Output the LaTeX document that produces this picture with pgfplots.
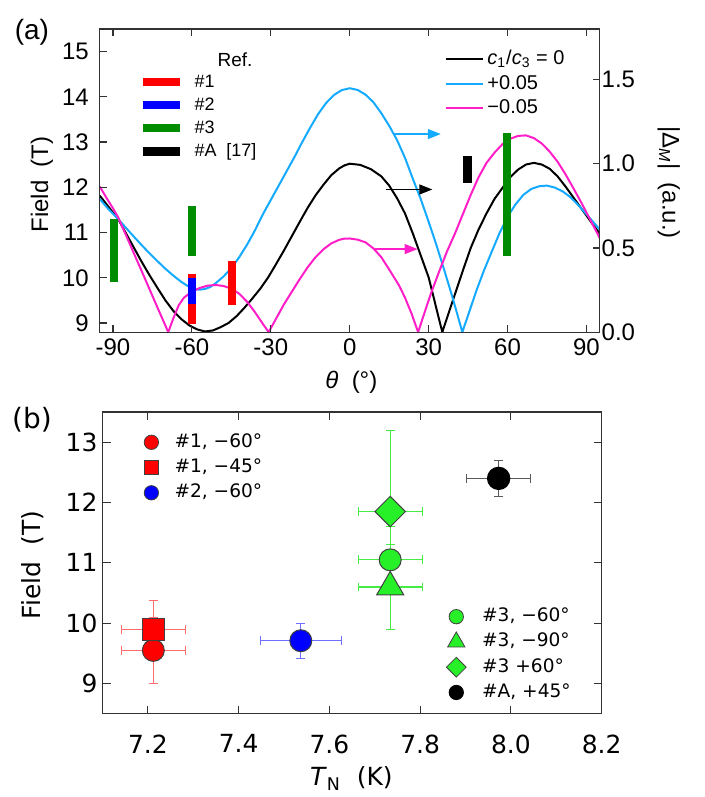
\documentclass[border=0pt]{standalone}
\usepackage{fontspec}
\setmainfont{Liberation Sans}
\newfontfamily\dejavu{DejaVu Sans}
\usepackage{pgfplots}
\pgfplotsset{compat=1.18}
\usetikzlibrary{arrows.meta}

\definecolor{cblue}{RGB}{20,170,255}
\definecolor{cmag}{RGB}{255,30,200}
\definecolor{bred}{RGB}{255,0,0}
\definecolor{bblue}{RGB}{0,0,255}
\definecolor{bgreen}{RGB}{0,140,0}
\definecolor{mgreen}{RGB}{40,240,40}
\definecolor{ered}{RGB}{255,110,110}
\definecolor{eblue}{RGB}{110,110,255}
\definecolor{egreen}{RGB}{70,235,70}
\definecolor{egray}{RGB}{90,90,90}
\definecolor{axgray}{RGB}{50,50,50}

% error bars first (small dot hidden later by the real marker)
\pgfplotsset{
  errbar/.style={only marks, mark=*, mark size=2.2pt, forget plot, color=#1,
    mark options={fill=#1, draw=#1},
    error bars/.cd, x dir=both, x explicit, y dir=both, y explicit,
    error bar style={line width=0.6pt}},
}

\begin{document}
\begin{tikzpicture}[x=1pt,y=1pt]
\path (-50,-232.15) rectangle (303,166.35);

% (a) right axis: |Delta_M| curves
\begin{axis}[
  at={(0pt,0pt)}, anchor=south west, scale only axis,
  width=250.35pt, height=151.85pt,
  xmin=-95, xmax=95, ymin=0, ymax=1.8,
  axis x line=none, axis y line*=right,
  ytick={0,0.5,1,1.5}, tick align=inside,
  axis line style={axgray, line width=0.6pt},
  major tick style={axgray, line width=0.6pt}, major tick length=3.5pt,
  tick label style={font=\fontsize{12}{14}\selectfont},
  y tick label style={/pgf/number format/.cd, fixed, fixed zerofill, precision=1, /tikz/.cd, xshift=-2.5pt},
  /pgf/number format/assume math mode=true,
  legend style={at={(axis cs:35.9,1.687)}, anchor=north west, draw=none, fill=none,
    inner sep=0pt, font=\fontsize{10}{12}\selectfont,
    nodes={inner sep=0pt, text height=8pt, text depth=2.5pt}, row sep=1.85pt, column sep=1.5pt},
  legend cell align=left,
  legend image code/.code={\draw[#1] (0pt,0pt) -- (19pt,0pt);},
]
\addplot[black, line width=1pt] coordinates {
(-95,0.810) (-91,0.730) (-88,0.671) (-85,0.585) (-82,0.500) (-79,0.415) (-76,0.335)
(-73,0.260) (-70,0.187) (-67,0.125) (-64,0.077) (-61,0.040) (-58,0.016) (-55,0.004)
(-52,0.010) (-49,0.030) (-46,0.055) (-43,0.095) (-40,0.145) (-37,0.200) (-34,0.258)
(-31,0.325) (-28,0.404) (-25,0.485) (-22,0.570) (-19,0.655) (-16,0.738) (-13,0.812)
(-10,0.875) (-7,0.932) (-4,0.972) (-2,0.990) (0,1.000) (4,0.993) (8,0.968) (12,0.925)
(15,0.870) (18,0.795) (21,0.705) (24,0.585) (27,0.455) (30,0.325) (32,0.200) (33.5,0.105)
(35.2,0.000) (37,0.085) (40,0.225) (43,0.365) (46,0.500) (49,0.610) (52,0.705) (55,0.790)
(58,0.855) (61,0.920) (64,0.965) (67,0.995) (70,1.005) (73,0.995) (76,0.970) (79,0.925)
(82,0.865) (85,0.800) (88,0.735) (91,0.670) (95,0.585)};
\addlegendentry{\textit{c}\textsubscript{1}/\textit{c}\textsubscript{3} = 0}
\addplot[cblue, line width=1pt] coordinates {
(-95,0.790) (-92,0.735) (-88,0.671) (-85,0.618) (-82,0.566) (-79,0.515) (-76,0.466)
(-73,0.420) (-70,0.375) (-67,0.335) (-64,0.298) (-61,0.268) (-59,0.255) (-57,0.252)
(-55,0.256) (-53,0.268) (-51,0.290) (-48,0.330) (-45,0.380) (-42,0.445) (-39,0.520)
(-36,0.605) (-33,0.700) (-30,0.785) (-27,0.870) (-24,0.955) (-21,1.040) (-18,1.130)
(-15,1.215) (-12,1.295) (-9,1.360) (-6,1.408) (-3,1.437) (0,1.448) (3,1.438) (6,1.410)
(9,1.365) (12,1.300) (15,1.225) (18,1.140) (21,1.035) (24,0.910) (27,0.790) (30,0.655)
(33,0.515) (36,0.365) (39,0.210) (41,0.100) (42.8,0.000) (45,0.100) (48,0.240) (51,0.365)
(54,0.478) (57,0.590) (60,0.685) (63,0.758) (66,0.815) (69,0.850) (72,0.866) (75,0.870)
(78,0.858) (81,0.835) (84,0.800) (87,0.752) (90,0.700) (95,0.610)};
\addlegendentry{+0.05}
\addplot[cmag, line width=1pt] coordinates {
(-95,0.864) (-92,0.785) (-90,0.735) (-88,0.681) (-85,0.574) (-82,0.466) (-79,0.359)
(-76,0.251) (-73,0.143) (-71,0.072) (-69,0.000) (-67,0.084) (-65,0.160) (-63,0.205)
(-60,0.240) (-57,0.262) (-54,0.276) (-51,0.280) (-48,0.274) (-45,0.258) (-42,0.228)
(-39,0.180) (-36,0.118) (-33,0.048) (-30.8,0.000) (-28,0.080) (-25,0.165) (-22,0.240)
(-19,0.315) (-16,0.385) (-13,0.445) (-10,0.492) (-7,0.527) (-4,0.548) (-2,0.555) (0,0.556)
(3,0.549) (6,0.533) (9,0.497) (12,0.445) (15,0.372) (18.8,0.276) (21,0.205) (23.5,0.110)
(26,0.000) (28,0.095) (31,0.235) (34,0.360) (37,0.480) (40,0.585) (43,0.700) (46,0.815)
(49,0.920) (52,1.005) (55,1.065) (58,1.115) (61,1.148) (64,1.165) (67,1.168) (70,1.152)
(73,1.120) (76,1.072) (79,1.012) (82,0.938) (85,0.855) (88,0.770) (91,0.680) (95,0.560)};
\addlegendentry{−0.05}
\draw[cblue, line width=0.6pt, -{Triangle[length=6.5pt,width=5pt]}] (axis cs:16.9,1.176) -- (axis cs:34.6,1.176);
\draw[black, line width=0.6pt, -{Triangle[length=6.5pt,width=5pt]}] (axis cs:13.8,0.847) -- (axis cs:31.4,0.847);
\draw[cmag, line width=0.6pt, -{Triangle[length=6.5pt,width=5pt]}] (axis cs:9.4,0.493) -- (axis cs:25.8,0.493);
\end{axis}

% (a) left axis: field ranges
\begin{axis}[
  at={(0pt,0pt)}, anchor=south west, scale only axis,
  width=250.35pt, height=151.85pt,
  xmin=-95, xmax=95, ymin=8.8, ymax=15.5,
  xtick={-90,-60,-30,0,30,60,90}, ytick={9,10,11,12,13,14,15},
  xtick pos=both, ytick pos=left, tick align=inside,
  axis line style={axgray, line width=0.6pt},
  major tick style={axgray, line width=0.6pt}, major tick length=3.5pt,
  tick label style={font=\fontsize{12}{14}\selectfont},
  y tick label style={xshift=-2pt},
  /pgf/number format/assume math mode=true,
  legend style={at={(axis cs:-80.4,14.53)}, anchor=north west, draw=none, fill=none,
    inner sep=0pt, font=\fontsize{9}{11}\selectfont,
    nodes={inner sep=0pt, text height=7pt, text depth=2pt}, row sep=2.5pt, column sep=5pt},
  legend cell align=left,
  legend image code/.code={\draw[#1] (0pt,0pt) -- (18.5pt,0pt);},
]
\addplot[bred, line width=4.15pt] coordinates {(-60,8.98) (-60,10.09)};
\addlegendentry{\#1}
\addplot[bred, line width=4.15pt, forget plot] coordinates {(-44.7,9.41) (-44.7,10.38)};
\addplot[bblue, line width=4.15pt] coordinates {(-60,9.43) (-60,10.0)};
\addlegendentry{\#2}
\addplot[bgreen, line width=4.15pt] coordinates {(-89.6,9.9) (-89.6,11.3)};
\addlegendentry{\#3}
\addplot[bgreen, line width=4.15pt, forget plot] coordinates {(-60,10.49) (-60,11.58)};
\addplot[bgreen, line width=4.15pt, forget plot] coordinates {(59.8,10.49) (59.8,13.19)};
\addplot[black, line width=4.5pt] coordinates {(44.9,12.1) (44.9,12.69)};
\addlegendentry{\#A\ \ [17]}
\end{axis}

\node[font=\fontsize{9.5}{11}\selectfont] at (67.75,136.35) {Ref.};
\node[font=\fontsize{14}{16}\selectfont] at (-34,150.35) {(a)};
\node[rotate=90, font=\fontsize{12}{14}\selectfont] at (-29,73.85) {Field\ \ (T)};
\node[font=\fontsize{12}{14}\selectfont] at (126,-25.15) {\textit{θ}\ \ (°)};
\node[rotate=-90, font=\fontsize{12}{14}\selectfont] at (285,74.85) {|Δ\textsubscript{\textit{M}}|\ \ (a.u.)};

% (b) T_N versus field
\begin{axis}[
  at={(1.35pt,-191.15pt)}, anchor=south west, scale only axis,
  width=250pt, height=151.15pt,
  xmin=7.1, xmax=8.2, ymin=8.5, ymax=13.5,
  xtick={7.2,7.4,7.6,7.8,8.0,8.2}, ytick={9,10,11,12,13},
  tick pos=both, tick align=inside,
  axis line style={axgray, line width=0.6pt},
  major tick style={axgray, line width=0.6pt}, major tick length=4pt,
  tick label style={font=\dejavu\fontsize{12.5}{14}\selectfont},
  x tick label style={/pgf/number format/.cd, fixed, fixed zerofill, precision=1, /tikz/.cd, yshift=-7pt},
  y tick label style={xshift=1pt},
  /pgf/number format/assume math mode=true,
  legend style={at={(axis cs:7.191,13.17)}, anchor=north west, draw=none, fill=none,
    inner sep=0pt, font=\dejavu\fontsize{9.3}{11}\selectfont,
    nodes={inner sep=0pt, text height=7.5pt, text depth=2.5pt}, row sep=2.65pt, column sep=8pt},
  legend cell align=left,
]
\addplot[errbar=ered] coordinates {(7.212,9.55) +- (0.07,0.55) (7.212,9.89) +- (0.07,0.49)};
\addplot[errbar=eblue] coordinates {(7.537,9.71) +- (0.09,0.285)};
\addplot[only marks, mark=*, mark size=5.5pt, forget plot,
  mark options={fill=bred, draw=black!75, line width=0.5pt}] coordinates {(7.212,9.55)};
\addplot[only marks, mark=square*, mark size=5.5pt, forget plot,
  mark options={fill=bred, draw=black!75, line width=0.5pt}] coordinates {(7.212,9.89)};
\addplot[only marks, mark=*, mark size=5.5pt, forget plot,
  mark options={fill=bblue, draw=black!75, line width=0.5pt}] coordinates {(7.537,9.71)};
\addlegendimage{only marks, mark=*, mark size=3.6pt, mark options={fill=bred, draw=black!75, line width=0.4pt}}
\addlegendentry{\#1, −60°}
\addlegendimage{only marks, mark=square*, mark size=3.4pt, mark options={fill=bred, draw=black!75, line width=0.4pt}}
\addlegendentry{\#1, −45°}
\addlegendimage{only marks, mark=*, mark size=3.6pt, mark options={fill=bblue, draw=black!75, line width=0.4pt}}
\addlegendentry{\#2, −60°}
\end{axis}

\begin{axis}[
  at={(1.35pt,-191.15pt)}, anchor=south west, scale only axis,
  width=250pt, height=151.15pt,
  xmin=7.1, xmax=8.2, ymin=8.5, ymax=13.5, hide axis,
  legend style={at={(axis cs:7.857,10.28)}, anchor=north west, draw=none, fill=none,
    inner sep=0pt, font=\dejavu\fontsize{9.3}{11}\selectfont,
    nodes={inner sep=0pt, text height=7.5pt, text depth=2.5pt}, row sep=2.65pt, column sep=8pt},
  legend cell align=left,
]
\addplot[errbar=egreen] coordinates {(7.734,11.05) +- (0.07,0.55) (7.734,10.6) +- (0.07,0.7) (7.734,11.85) +- (0.07,1.35)};
\addplot[errbar=egray] coordinates {(7.973,12.4) +- (0.07,0.3)};
\addplot[only marks, mark=*, mark size=5.5pt, forget plot,
  mark options={fill=mgreen, draw=black!75, line width=0.5pt}] coordinates {(7.734,11.05)};
\addplot[only marks, mark=triangle*, mark size=7.8pt, forget plot,
  mark options={fill=mgreen, draw=black!75, line width=0.5pt}] coordinates {(7.734,10.6)};
\addplot[only marks, mark=square*, mark size=5.4pt, forget plot,
  mark options={fill=mgreen, draw=black!75, line width=0.5pt, rotate=45}] coordinates {(7.734,11.85)};
\addplot[only marks, mark=*, mark size=5.6pt, forget plot,
  mark options={fill=black, draw=black, line width=0.5pt}] coordinates {(7.973,12.4)};
\addlegendimage{only marks, mark=*, mark size=3.6pt, mark options={fill=mgreen, draw=black!75, line width=0.4pt}}
\addlegendentry{\#3, −60°}
\addlegendimage{only marks, mark=triangle*, mark size=5pt, mark options={fill=mgreen, draw=black!75, line width=0.4pt}}
\addlegendentry{\#3, −90°}
\addlegendimage{only marks, mark=square*, mark size=3.5pt, mark options={fill=mgreen, draw=black!75, line width=0.4pt, rotate=45}}
\addlegendentry{\#3 +60°}
\addlegendimage{only marks, mark=*, mark size=3.6pt, mark options={fill=black, draw=black, line width=0.4pt}}
\addlegendentry{\#A, +45°}
\end{axis}

\node[font=\dejavu\fontsize{14}{16}\selectfont] at (-34,-43.65) {(b)};
\node[rotate=90, font=\dejavu\fontsize{12.5}{14}\selectfont] at (-33.5,-116.65) {Field\ \ (T)};
\node[font=\dejavu\fontsize{12.5}{14}\selectfont] at (126,-223.65) {\textit{T}\textsubscript{N}\ \ (K)};
\end{tikzpicture}
\end{document}
